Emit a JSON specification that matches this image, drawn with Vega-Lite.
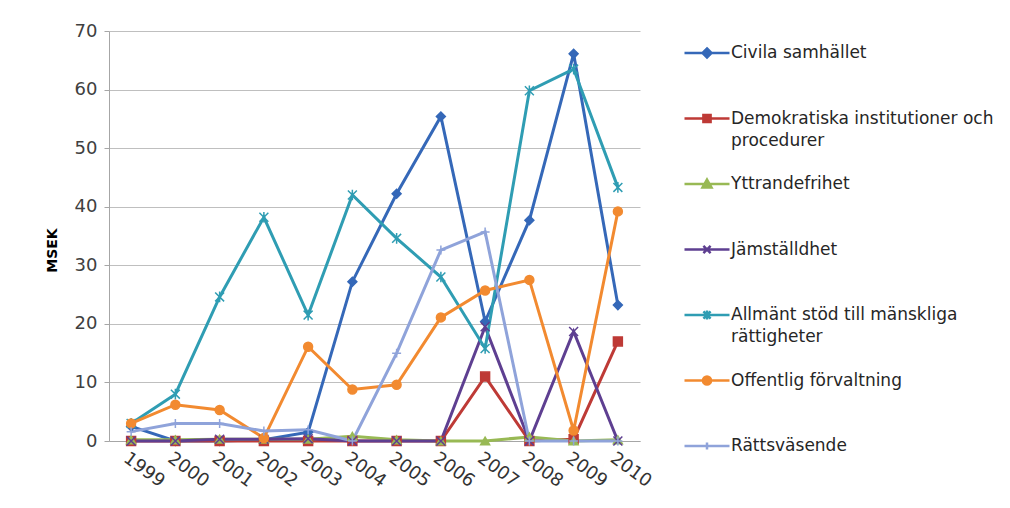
{
  "$schema": "https://vega.github.io/schema/vega-lite/v6.json",
  "description": "MSEK per område 1999-2010",
  "autosize": {"type": "none"},
  "padding": {"left": 109, "top": 31, "right": 370, "bottom": 67},
  "width": 531,
  "height": 410,
  "background": "white",
  "config": {
    "font": "DejaVu Sans",
    "view": {"stroke": null},
    "axis": {"labelFont": "DejaVu Sans", "titleFont": "DejaVu Sans"},
    "legend": {"labelFont": "DejaVu Sans"},
    "style": {"guide-label": {"lineHeight": 22}}
  },
  "data": {
    "values": [
      {"year": "1999", "series": "Civila samhället", "value": 2.5},
      {"year": "2000", "series": "Civila samhället", "value": 0},
      {"year": "2001", "series": "Civila samhället", "value": 0},
      {"year": "2002", "series": "Civila samhället", "value": 0.2},
      {"year": "2003", "series": "Civila samhället", "value": 1.5},
      {"year": "2004", "series": "Civila samhället", "value": 27.2},
      {"year": "2005", "series": "Civila samhället", "value": 42.2},
      {"year": "2006", "series": "Civila samhället", "value": 55.4},
      {"year": "2007", "series": "Civila samhället", "value": 20.4},
      {"year": "2008", "series": "Civila samhället", "value": 37.7},
      {"year": "2009", "series": "Civila samhället", "value": 66.1},
      {"year": "2010", "series": "Civila samhället", "value": 23.2},

      {"year": "1999", "series": "Demokratiska institutioner och procedurer", "value": 0},
      {"year": "2000", "series": "Demokratiska institutioner och procedurer", "value": 0},
      {"year": "2001", "series": "Demokratiska institutioner och procedurer", "value": 0},
      {"year": "2002", "series": "Demokratiska institutioner och procedurer", "value": 0},
      {"year": "2003", "series": "Demokratiska institutioner och procedurer", "value": 0},
      {"year": "2004", "series": "Demokratiska institutioner och procedurer", "value": 0},
      {"year": "2005", "series": "Demokratiska institutioner och procedurer", "value": 0},
      {"year": "2006", "series": "Demokratiska institutioner och procedurer", "value": 0},
      {"year": "2007", "series": "Demokratiska institutioner och procedurer", "value": 11},
      {"year": "2008", "series": "Demokratiska institutioner och procedurer", "value": 0},
      {"year": "2009", "series": "Demokratiska institutioner och procedurer", "value": 0.3},
      {"year": "2010", "series": "Demokratiska institutioner och procedurer", "value": 17},

      {"year": "1999", "series": "Yttrandefrihet", "value": 0.2},
      {"year": "2000", "series": "Yttrandefrihet", "value": 0.2},
      {"year": "2001", "series": "Yttrandefrihet", "value": 0.3},
      {"year": "2002", "series": "Yttrandefrihet", "value": 0.3},
      {"year": "2003", "series": "Yttrandefrihet", "value": 0.3},
      {"year": "2004", "series": "Yttrandefrihet", "value": 0.8},
      {"year": "2005", "series": "Yttrandefrihet", "value": 0.2},
      {"year": "2006", "series": "Yttrandefrihet", "value": 0},
      {"year": "2007", "series": "Yttrandefrihet", "value": 0},
      {"year": "2008", "series": "Yttrandefrihet", "value": 0.7},
      {"year": "2009", "series": "Yttrandefrihet", "value": 0},
      {"year": "2010", "series": "Yttrandefrihet", "value": 0.2},

      {"year": "1999", "series": "Jämställdhet", "value": 0},
      {"year": "2000", "series": "Jämställdhet", "value": 0},
      {"year": "2001", "series": "Jämställdhet", "value": 0.3},
      {"year": "2002", "series": "Jämställdhet", "value": 0.3},
      {"year": "2003", "series": "Jämställdhet", "value": 0.4},
      {"year": "2004", "series": "Jämställdhet", "value": 0},
      {"year": "2005", "series": "Jämställdhet", "value": 0},
      {"year": "2006", "series": "Jämställdhet", "value": 0},
      {"year": "2007", "series": "Jämställdhet", "value": 19.5},
      {"year": "2008", "series": "Jämställdhet", "value": 0},
      {"year": "2009", "series": "Jämställdhet", "value": 18.7},
      {"year": "2010", "series": "Jämställdhet", "value": 0},

      {"year": "1999", "series": "Allmänt stöd till mänskliga rättigheter", "value": 3},
      {"year": "2000", "series": "Allmänt stöd till mänskliga rättigheter", "value": 8},
      {"year": "2001", "series": "Allmänt stöd till mänskliga rättigheter", "value": 24.6},
      {"year": "2002", "series": "Allmänt stöd till mänskliga rättigheter", "value": 38.2},
      {"year": "2003", "series": "Allmänt stöd till mänskliga rättigheter", "value": 21.5},
      {"year": "2004", "series": "Allmänt stöd till mänskliga rättigheter", "value": 42},
      {"year": "2005", "series": "Allmänt stöd till mänskliga rättigheter", "value": 34.6},
      {"year": "2006", "series": "Allmänt stöd till mänskliga rättigheter", "value": 28},
      {"year": "2007", "series": "Allmänt stöd till mänskliga rättigheter", "value": 15.8},
      {"year": "2008", "series": "Allmänt stöd till mänskliga rättigheter", "value": 59.8},
      {"year": "2009", "series": "Allmänt stöd till mänskliga rättigheter", "value": 63.5},
      {"year": "2010", "series": "Allmänt stöd till mänskliga rättigheter", "value": 43.3},

      {"year": "1999", "series": "Offentlig förvaltning", "value": 3},
      {"year": "2000", "series": "Offentlig förvaltning", "value": 6.2},
      {"year": "2001", "series": "Offentlig förvaltning", "value": 5.3},
      {"year": "2002", "series": "Offentlig förvaltning", "value": 0.5},
      {"year": "2003", "series": "Offentlig förvaltning", "value": 16.1},
      {"year": "2004", "series": "Offentlig förvaltning", "value": 8.8},
      {"year": "2005", "series": "Offentlig förvaltning", "value": 9.6},
      {"year": "2006", "series": "Offentlig förvaltning", "value": 21.1},
      {"year": "2007", "series": "Offentlig förvaltning", "value": 25.7},
      {"year": "2008", "series": "Offentlig förvaltning", "value": 27.5},
      {"year": "2009", "series": "Offentlig förvaltning", "value": 1.8},
      {"year": "2010", "series": "Offentlig förvaltning", "value": 39.2},

      {"year": "1999", "series": "Rättsväsende", "value": 1.6},
      {"year": "2000", "series": "Rättsväsende", "value": 3},
      {"year": "2001", "series": "Rättsväsende", "value": 3},
      {"year": "2002", "series": "Rättsväsende", "value": 1.7},
      {"year": "2003", "series": "Rättsväsende", "value": 1.9},
      {"year": "2004", "series": "Rättsväsende", "value": 0},
      {"year": "2005", "series": "Rättsväsende", "value": 15},
      {"year": "2006", "series": "Rättsväsende", "value": 32.6},
      {"year": "2007", "series": "Rättsväsende", "value": 35.7},
      {"year": "2008", "series": "Rättsväsende", "value": 0},
      {"year": "2009", "series": "Rättsväsende", "value": 0},
      {"year": "2010", "series": "Rättsväsende", "value": 0}
    ]
  },
  "encoding": {
    "x": {
      "field": "year",
      "type": "ordinal",
      "sort": null,
      "scale": {"type": "point", "padding": 0.5},
      "axis": {
        "title": null,
        "labelAngle": 36,
        "labelAlign": "left",
        "labelBaseline": "top",
        "labelPadding": 8,
        "labelOffset": -1,
        "labelFontSize": 18,
        "labelColor": "#333333",
        "ticks": false,
        "domainColor": "#a6a6a6",
        "domainWidth": 1,
        "grid": false
      }
    },
    "y": {
      "field": "value",
      "type": "quantitative",
      "scale": {"domain": [0, 70], "nice": false},
      "axis": {
        "title": "MSEK",
        "titleFontSize": 14,
        "titleFontWeight": "bold",
        "titleColor": "#000000",
        "titleAngle": -90,
        "titleX": -57,
        "titleY": 219,
        "titleAlign": "center",
        "titleBaseline": "middle",
        "values": [0, 10, 20, 30, 40, 50, 60, 70],
        "format": "d",
        "labelFontSize": 18,
        "labelColor": "#404040",
        "labelPadding": 7,
        "tickSize": 5,
        "tickColor": "#a6a6a6",
        "domainColor": "#a6a6a6",
        "gridColor": "#bfbfbf",
        "gridWidth": 1
      }
    }
  },
  "layer": [
    {
      "mark": {"type": "line", "strokeWidth": 3},
      "encoding": {
        "color": {
          "field": "series",
          "type": "nominal",
          "legend": null,
          "scale": {
            "domain": ["Civila samhället", "Demokratiska institutioner och procedurer", "Yttrandefrihet", "Jämställdhet", "Allmänt stöd till mänskliga rättigheter", "Offentlig förvaltning", "Rättsväsende"],
            "range": ["#3568b8", "#be3a36", "#98b954", "#5e3f91", "#2f9db3", "#f28a30", "#8fa3da"]
          }
        }
      }
    },
    {
      "mark": {"type": "point", "filled": true, "strokeWidth": 1.5, "opacity": 1},
      "encoding": {
        "color": {
          "field": "series",
          "type": "nominal",
          "legend": null,
          "scale": {
            "domain": ["Civila samhället", "Demokratiska institutioner och procedurer", "Yttrandefrihet", "Jämställdhet", "Allmänt stöd till mänskliga rättigheter", "Offentlig förvaltning", "Rättsväsende"],
            "range": ["#3568b8", "#be3a36", "#98b954", "#5e3f91", "#2f9db3", "#f28a30", "#8fa3da"]
          }
        },
        "stroke": {
          "field": "series",
          "type": "nominal",
          "legend": null,
          "scale": {
            "domain": ["Civila samhället", "Demokratiska institutioner och procedurer", "Yttrandefrihet", "Jämställdhet", "Allmänt stöd till mänskliga rättigheter", "Offentlig förvaltning", "Rättsväsende"],
            "range": ["#3568b8", "#be3a36", "#98b954", "#5e3f91", "#2f9db3", "#f28a30", "#8fa3da"]
          }
        },
        "shape": {
          "field": "series",
          "type": "nominal",
          "legend": null,
          "scale": {
            "domain": ["Civila samhället", "Demokratiska institutioner och procedurer", "Yttrandefrihet", "Jämställdhet", "Allmänt stöd till mänskliga rättigheter", "Offentlig förvaltning", "Rättsväsende"],
            "range": ["diamond", "square", "triangle-up", "M-1,-1L1,1M-1,1L1,-1", "M-1,-1L1,1M-1,1L1,-1M0,-1.2V1.2", "circle", "M-1,0H1M0,-1V1"]
          }
        },
        "size": {"value": 80}
      }
    },
    {
      "transform": [{"filter": "false"}],
      "mark": {"type": "point", "filled": false, "opacity": 1},
      "encoding": {
        "color": {
          "field": "series",
          "type": "nominal",
          "scale": {
            "domain": ["Civila samhället", "Demokratiska institutioner och procedurer", "Yttrandefrihet", "Jämställdhet", "Allmänt stöd till mänskliga rättigheter", "Offentlig förvaltning", "Rättsväsende"],
            "range": ["#3568b8", "#be3a36", "#98b954", "#5e3f91", "#2f9db3", "#f28a30", "#8fa3da"]
          },
          "legend": {
            "title": null,
            "orient": "none",
            "legendX": 574,
            "legendY": -2,
            "padding": 0,
            "gridAlign": "all",
            "symbolSize": 2025,
            "symbolStrokeWidth": 2.5,
            "labelFontSize": 17,
            "labelColor": "#262626",
            "labelOffset": 0,
            "labelLimit": 400,
            "rowPadding": 11.5,
            "labelExpr": "datum.value == 'Demokratiska institutioner och procedurer' ? ['Demokratiska institutioner och', 'procedurer'] : datum.value == 'Allmänt stöd till mänskliga rättigheter' ? ['Allmänt stöd till mänskliga', 'rättigheter'] : datum.label"
          }
        },
        "fill": {
          "field": "series",
          "type": "nominal",
          "scale": {
            "domain": ["Civila samhället", "Demokratiska institutioner och procedurer", "Yttrandefrihet", "Jämställdhet", "Allmänt stöd till mänskliga rättigheter", "Offentlig förvaltning", "Rättsväsende"],
            "range": ["#3568b8", "#be3a36", "#98b954", "#5e3f91", "#2f9db3", "#f28a30", "#8fa3da"]
          },
          "legend": {
            "title": null,
            "orient": "none",
            "legendX": 574,
            "legendY": -2,
            "padding": 0,
            "gridAlign": "all",
            "symbolSize": 2025,
            "symbolStrokeWidth": 2.5,
            "labelFontSize": 17,
            "labelColor": "#262626",
            "labelOffset": 0,
            "labelLimit": 400,
            "rowPadding": 11.5,
            "labelExpr": "datum.value == 'Demokratiska institutioner och procedurer' ? ['Demokratiska institutioner och', 'procedurer'] : datum.value == 'Allmänt stöd till mänskliga rättigheter' ? ['Allmänt stöd till mänskliga', 'rättigheter'] : datum.label"
          }
        },
        "shape": {
          "field": "series",
          "type": "nominal",
          "scale": {
            "domain": ["Civila samhället", "Demokratiska institutioner och procedurer", "Yttrandefrihet", "Jämställdhet", "Allmänt stöd till mänskliga rättigheter", "Offentlig förvaltning", "Rättsväsende"],
            "range": [
              "M-1,0H1M0,-0.2L0.2,0L0,0.2L-0.2,0Z",
              "M-1,0H1M-0.16,-0.16H0.16V0.16H-0.16Z",
              "M-1,0H1M0,-0.2L0.2,0.15H-0.2Z",
              "M-1,0H1M-0.16,-0.16L0.16,0.16M-0.16,0.16L0.16,-0.16",
              "M-1,0H1M-0.16,-0.16L0.16,0.16M-0.16,0.16L0.16,-0.16M0,-0.2V0.2",
              "M-1,0H1M-0.18,0A0.18,0.18,0,1,0,0.18,0A0.18,0.18,0,1,0,-0.18,0Z",
              "M-1,0H1M0,-0.16V0.16"
            ]
          },
          "legend": {
            "title": null,
            "orient": "none",
            "legendX": 574,
            "legendY": -2,
            "padding": 0,
            "gridAlign": "all",
            "symbolSize": 2025,
            "symbolStrokeWidth": 2.5,
            "labelFontSize": 17,
            "labelColor": "#262626",
            "labelOffset": 0,
            "labelLimit": 400,
            "rowPadding": 11.5,
            "labelExpr": "datum.value == 'Demokratiska institutioner och procedurer' ? ['Demokratiska institutioner och', 'procedurer'] : datum.value == 'Allmänt stöd till mänskliga rättigheter' ? ['Allmänt stöd till mänskliga', 'rättigheter'] : datum.label"
          }
        }
      }
    }
  ],
  "resolve": {"scale": {"shape": "independent", "color": "independent", "fill": "independent"}}
}
